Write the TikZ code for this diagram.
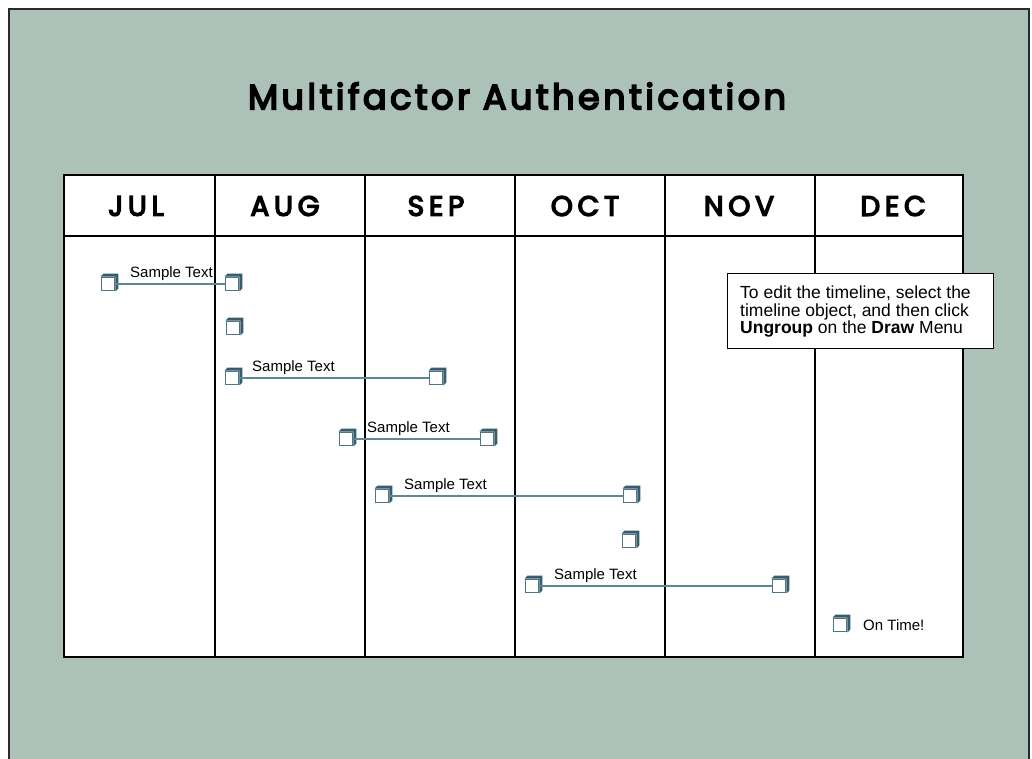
\documentclass[tikz,border=0pt]{standalone}
\usepackage{fontspec}
\setmainfont{Liberation Sans}
\newfontfamily\titlefont{Poppins}[FakeBold=5, LetterSpace=10]
\newfontfamily\monthfont{Poppins}[FakeBold=5, LetterSpace=17]
\usetikzlibrary{shadows}
\definecolor{panel}{RGB}{172,194,184}
\definecolor{panelborder}{RGB}{40,45,42}
\definecolor{mkline}{RGB}{78,118,134}
\definecolor{mkdark}{RGB}{55,92,108}
\definecolor{conn}{RGB}{95,135,150}
\begin{document}
\begin{tikzpicture}[x=1pt,y=-1pt,
  marker/.style={draw=mkline, line width=1.3pt, fill=white, minimum size=13.5pt, inner sep=0pt},
  cubeside/.style={fill=mkdark},
  link/.style={draw=conn, line width=1.3pt},
  lbl/.style={font=\fontsize{15}{16}\selectfont, anchor=base west, inner sep=0pt},
  month/.style={font=\monthfont\fontsize{28}{30}\selectfont, inner sep=0pt},
  grid/.style={line width=1.2pt},
  frame/.style={line width=2.8pt},
]
\useasboundingbox (0,0) rectangle (1032,758);
\clip (0,0) rectangle (1032,758);
% panel
\fill[panel] (9,9) rectangle (1029,780);
\draw[panelborder, line width=1.5pt] (9,780) -- (9,9) -- (1029,9) -- (1029,780);
% title
\node[font=\titlefont\fontsize{35}{38}\selectfont, inner sep=0pt] (title) at (517,96) {Multifactor Authentication};
% table
\fill[white] (64,175) rectangle (963,657);
\foreach \x in {215,365,515,665,815} \draw[grid] (\x,175) -- (\x,657);
\draw[line width=2.5pt] (64,236) -- (963,236);
\draw[frame] (64,175) rectangle (963,657);
% months
\node[month] (jul) at (136,206) {JUL};
\node[month] (aug) at (285,206) {AUG};
\node[month] (sep) at (436,206) {SEP};
\node[month] (oct) at (585,206) {OCT};
\node[month] (nov) at (739,206) {NOV};
\node[month] (dec) at (893,206) {DEC};
% markers
\node[marker] (a1) at (108,284) {};
\node[marker] (b1) at (232,284) {};
\node[marker] (c1) at (233,328) {};
\node[marker] (a3) at (232,378) {};
\node[marker] (b3) at (436,378) {};
\node[marker] (a4) at (346,439) {};
\node[marker] (b4) at (487,439) {};
\node[marker] (a5) at (382,496) {};
\node[marker] (b5) at (630,496) {};
\node[marker] (c6) at (629,541) {};
\node[marker] (a7) at (532,586) {};
\node[marker] (b7) at (779,586) {};
\node[marker] (c8) at (840,625) {};
\foreach \m in {a1,b1,c1,a3,b3,a4,b4,a5,b5,c6,a7,b7,c8}
  \fill[cubeside] (\m.north west) -- ([shift={(3,-3)}]\m.north west) -- ([shift={(3,-3)}]\m.north east)
     -- ([shift={(3,-3)}]\m.south east) -- (\m.south east) -- (\m.north east) -- cycle;
% connectors
\draw[link] (a1.east) -- (b1.west);
\draw[link] (a3.east) -- (b3.west);
\draw[link] (a4.east) -- (b4.west);
\draw[link] (a5.east) -- (b5.west);
\draw[link] (a7.east) -- (b7.west);
% labels
\node[lbl] (t1) at ([xshift=22pt,yshift=7pt]a1.center) {Sample Text};
\node[lbl] (t3) at ([xshift=20pt,yshift=7pt]a3.center) {Sample Text};
\node[lbl] (t4) at ([xshift=21pt,yshift=7pt]a4.center) {Sample Text};
\node[lbl] (t5) at ([xshift=22pt,yshift=7pt]a5.center) {Sample Text};
\node[lbl] (t7) at ([xshift=22pt,yshift=7pt]a7.center) {Sample Text};
\node[lbl, anchor=west] (t8) at ([xshift=23pt]c8.center) {On Time!};
% note
\node[draw, fill=white, line width=0.8pt, anchor=north west, minimum width=266pt, minimum height=75pt, inner sep=0pt] (note) at (727,273) {};
\node[anchor=base west, align=left, inner sep=0pt, font=\fontsize{17.5}{17.5}\selectfont] (notetext) at (740,333.5)
  {To edit the timeline, select the\\timeline object, and then click\\\textbf{Ungroup} on the \textbf{Draw} Menu};
\end{tikzpicture}
\end{document}
